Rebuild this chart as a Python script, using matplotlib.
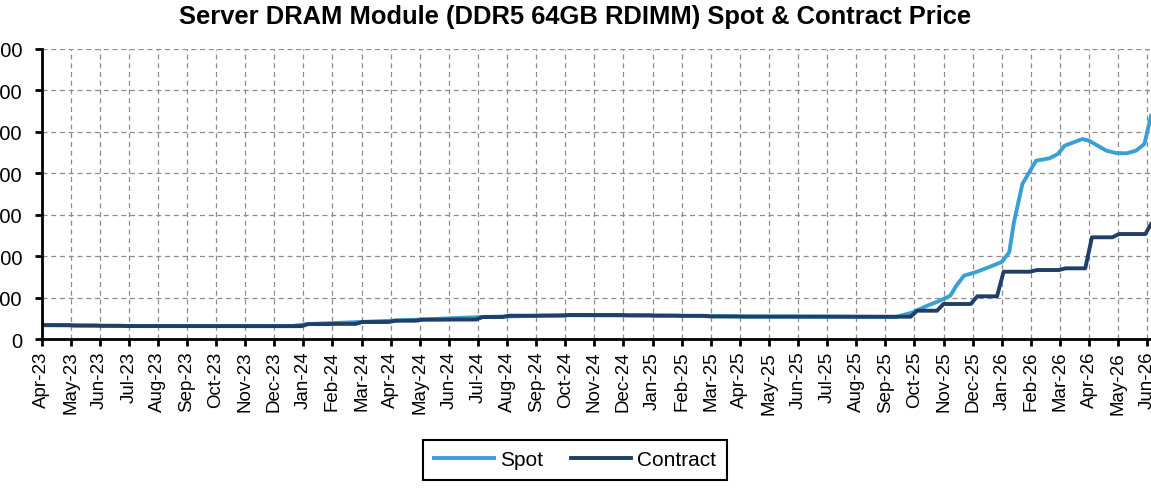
import matplotlib
matplotlib.use("Agg")
import matplotlib.pyplot as plt
import pandas as pd

plt.rcParams['font.family'] = ['Liberation Sans', 'DejaVu Sans']

month_labels = ['Apr-23', 'May-23', 'Jun-23', 'Jul-23', 'Aug-23', 'Sep-23', 'Oct-23', 'Nov-23',
                'Dec-23', 'Jan-24', 'Feb-24', 'Mar-24', 'Apr-24', 'May-24', 'Jun-24', 'Jul-24',
                'Aug-24', 'Sep-24', 'Oct-24', 'Nov-24', 'Dec-24', 'Jan-25', 'Feb-25', 'Mar-25',
                'Apr-25', 'May-25', 'Jun-25', 'Jul-25', 'Aug-25', 'Sep-25', 'Oct-25', 'Nov-25',
                'Dec-25', 'Jan-26', 'Feb-26', 'Mar-26', 'Apr-26', 'May-26', 'Jun-26']

# monthly contract price (USD), one per month label
contract_monthly = [335, 325, 318, 312, 310, 310, 310, 310,
                    310, 360, 365, 410, 442, 466, 470, 531,
                    562, 565, 579, 578, 572, 565, 560, 545,
                    540, 540, 538, 538, 538, 538, 683, 845,
                    1031, 1624, 1665, 1706, 2455, 2534, 2776]

# spot price (USD), irregular samples
spot_dates = ['2023-04-01', '2023-07-01', '2023-12-20', '2024-01-05', '2024-04-01', '2024-07-05',
              '2024-10-01', '2025-01-01', '2025-04-01', '2025-07-01', '2025-09-12', '2025-09-29',
              '2025-10-14', '2025-10-28', '2025-11-08', '2025-11-14', '2025-11-22', '2025-12-04',
              '2025-12-18', '2026-01-01', '2026-01-09', '2026-01-14', '2026-01-23', '2026-02-06',
              '2026-02-19', '2026-02-27', '2026-03-06', '2026-03-25', '2026-04-01', '2026-04-19',
              '2026-04-29', '2026-05-10', '2026-05-20', '2026-05-29', '2026-06-05']
spot_values = [335, 315, 312, 360, 440, 530,
               575, 565, 545, 540, 530, 640,
               797, 924, 1045, 1279, 1528, 1610,
               1731, 1859, 2093, 2817, 3741, 4304,
               4362, 4465, 4666, 4827, 4786, 4545,
               4489, 4482, 4545, 4707, 5390]

y_ticks = [0, 1000, 2000, 3000, 4000, 5000, 6000, 7000]

start = pd.Timestamp('2023-04-01')


def month_pos(d):
    d = pd.Timestamp(d)
    m = (d.year - start.year) * 12 + d.month - start.month
    return m + (d.day - 1) / d.days_in_month


# weekly samples of the monthly contract price
weeks = pd.date_range('2023-04-01', '2026-06-05', freq='7D')
contract_x = [month_pos(w) for w in weeks]
contract_y = [contract_monthly[(w.year - start.year) * 12 + w.month - start.month] for w in weeks]
contract_x.append(month_pos('2026-06-05'))
contract_y.append(contract_monthly[-1])

spot_x = [month_pos(d) for d in spot_dates]

fig = plt.figure(figsize=(11.51, 4.89), dpi=100)
ax = fig.add_axes([41.5 / 1151, 149 / 489, 1 - 41.5 / 1151, 290 / 489])

ax.plot(spot_x, spot_values, color='#3A9FD6', lw=2.8, label='Spot', zorder=3)
ax.plot(contract_x, contract_y, color='#1F3F66', lw=2.8, label='Contract', zorder=4)

ax.set_xlim(0, 38.13)
ax.set_ylim(0, 7000)
ax.set_xticks(range(len(month_labels)))
ax.set_xticklabels(month_labels, rotation=90, fontsize=13.5)
ax.set_yticks(y_ticks)
ax.set_yticklabels([str(v) for v in y_ticks], fontsize=14.5)

ax.grid(True, linestyle=(0, (4, 3)), color='#8c8c8c', lw=0.9)
for s in ['top', 'right']:
    ax.spines[s].set_visible(False)
for s in ['left', 'bottom']:
    ax.spines[s].set_linewidth(2)
    ax.spines[s].set_zorder(5)
ax.tick_params(direction='out', length=5, width=2)
ax.tick_params(axis='y', pad=9)
ax.tick_params(axis='x', pad=3.5)

fig.text(0.5, 1 - 17 / 489, 'Server DRAM Module (DDR5 64GB RDIMM) Spot & Contract Price',
         ha='center', va='center', fontsize=18.4, fontweight='bold')

leg = fig.legend(loc='center', bbox_to_anchor=(575 / 1151, 1 - 461 / 489), ncol=2, fontsize=15,
                 frameon=True, fancybox=False, framealpha=1, edgecolor='black',
                 handlelength=2.9, handletextpad=0.3, columnspacing=1.3, borderpad=0.5)
leg.get_frame().set_linewidth(1.5)

fig.savefig('out.png', dpi=100)
